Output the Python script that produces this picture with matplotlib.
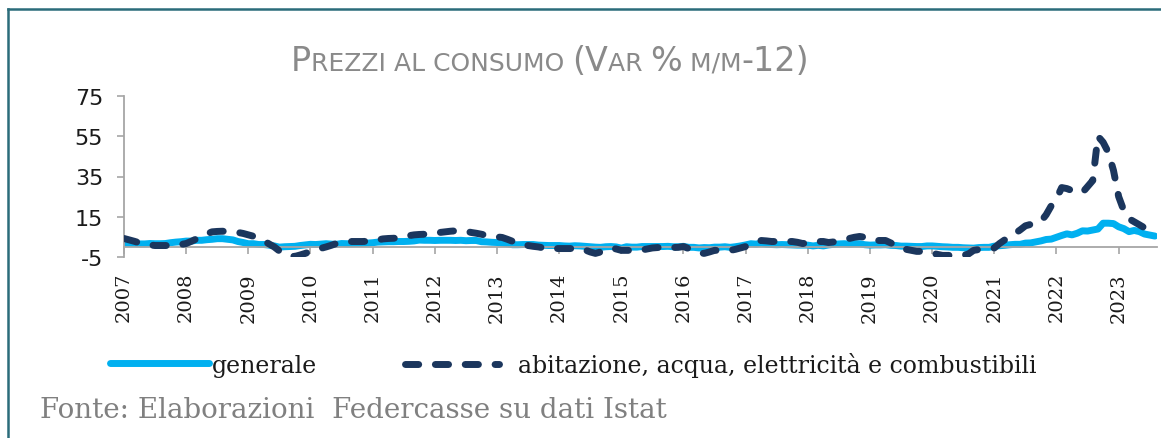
import matplotlib
matplotlib.use("Agg")
import matplotlib.pyplot as plt
from matplotlib.lines import Line2D
import numpy as np

plt.rcParams["axes.unicode_minus"] = False

# variazioni % tendenziali mensili, gen 2007 - ago 2023
anni = ["2007", "2008", "2009", "2010", "2011", "2012", "2013", "2014", "2015",
        "2016", "2017", "2018", "2019", "2020", "2021", "2022", "2023"]

generale = [
    1.7, 1.8, 1.7, 1.5, 1.5, 1.7, 1.6, 1.6, 1.7, 2.1, 2.4, 2.6,        # 2007
    2.9, 2.9, 3.3, 3.3, 3.6, 3.8, 4.1, 4.1, 3.8, 3.5, 2.7, 2.2,        # 2008
    1.6, 1.6, 1.2, 1.2, 0.9, 0.5, -0.1, 0.1, 0.2, 0.3, 0.7, 1.0,       # 2009
    1.3, 1.2, 1.4, 1.6, 1.4, 1.3, 1.7, 1.6, 1.6, 1.7, 1.7, 1.9,        # 2010
    2.1, 2.4, 2.5, 2.6, 2.6, 2.7, 2.7, 2.8, 3.0, 3.4, 3.3, 3.3,        # 2011
    3.2, 3.3, 3.3, 3.3, 3.2, 3.3, 3.1, 3.2, 3.2, 2.6, 2.5, 2.3,        # 2012
    2.2, 1.9, 1.6, 1.1, 1.1, 1.2, 1.2, 1.2, 0.9, 0.8, 0.7, 0.7,        # 2013
    0.7, 0.5, 0.4, 0.6, 0.5, 0.3, 0.1, -0.1, -0.2, 0.1, 0.2, 0.0,      # 2014
    -0.6, 0.1, -0.1, -0.1, 0.2, 0.2, 0.2, 0.2, 0.2, 0.3, 0.1, 0.1,     # 2015
    0.3, -0.2, -0.2, -0.5, -0.3, -0.4, -0.1, -0.1, 0.1, -0.2, 0.1, 0.5, # 2016
    1.0, 1.6, 1.4, 1.9, 1.4, 1.2, 1.1, 1.2, 1.1, 1.0, 0.9, 0.9,        # 2017
    0.9, 0.5, 0.8, 0.5, 1.0, 1.3, 1.5, 1.6, 1.4, 1.6, 1.6, 1.1,        # 2018
    0.9, 1.0, 1.0, 1.1, 0.8, 0.7, 0.4, 0.4, 0.3, 0.2, 0.2, 0.5,        # 2019
    0.5, 0.3, 0.1, 0.0, -0.2, -0.2, -0.4, -0.5, -0.6, -0.3, -0.2, -0.2, # 2020
    0.4, 0.6, 0.8, 1.1, 1.3, 1.3, 1.9, 2.0, 2.5, 3.0, 3.7, 3.9,        # 2021
    4.8, 5.7, 6.5, 6.0, 6.8, 8.0, 7.9, 8.4, 8.9, 11.8, 11.8, 11.6,     # 2022
    10.0, 9.1, 7.6, 8.2, 7.6, 6.4, 5.9, 5.4,                           # 2023
]

abitazione = [
    4.2, 3.5, 2.8, 2.0, 1.5, 1.0, 0.7, 0.7, 0.7, 0.7, 0.8, 1.2,        # 2007
    1.7, 2.8, 4.0, 5.2, 6.5, 7.5, 7.7, 7.8, 7.7, 7.5, 7.2, 6.7,        # 2008
    6.0, 5.3, 4.2, 3.0, 1.5, 0.0, -2.0, -3.5, -4.5, -4.7, -4.0, -3.2,  # 2009
    -2.2, -1.5, -0.7, 0.0, 0.8, 1.7, 2.2, 2.5, 2.7, 2.7, 2.7, 2.8,     # 2010
    3.0, 3.5, 4.0, 4.2, 4.3, 4.5, 5.0, 5.6, 6.0, 6.2, 6.3, 6.5,        # 2011
    6.8, 7.2, 7.5, 7.8, 8.0, 8.2, 7.8, 7.2, 6.8, 6.3, 5.7, 5.2,        # 2012
    5.0, 4.7, 3.8, 2.8, 1.7, 1.2, 0.7, 0.3, 0.0, -0.5, -0.8, -0.8,     # 2013
    -0.8, -0.8, -0.8, -0.8, -0.8, -1.5, -2.5, -3.2, -2.5, -1.5, -0.5, -1.0, # 2014
    -1.7, -1.7, -1.7, -1.7, -1.5, -1.0, -0.5, -0.3, -0.3, -0.3, -0.3, -0.2, # 2015
    0.2, -0.8, -2.0, -3.0, -3.2, -2.5, -1.7, -1.7, -1.7, -1.7, -1.2, -0.5,  # 2016
    0.2, 1.3, 2.3, 3.2, 3.0, 2.7, 2.7, 2.7, 2.7, 2.7, 2.3, 1.7,        # 2017
    2.0, 2.4, 2.7, 2.7, 2.2, 2.5, 3.2, 3.8, 4.2, 4.8, 5.2, 4.8,        # 2018
    4.0, 3.2, 3.2, 3.2, 2.0, 0.8, -0.8, -1.2, -1.7, -2.2, -2.2, -2.5,  # 2019
    -3.0, -3.7, -4.2, -4.2, -4.2, -4.2, -4.2, -3.5, -1.7, -1.3, -1.0, -0.8, # 2020
    -0.5, 1.7, 3.5, 5.0, 6.7, 8.5, 10.5, 11.2, 12.0, 12.7, 16.0, 20.5, # 2021
    24.0, 29.5, 29.0, 28.0, 27.5, 27.0, 30.0, 33.0, 55.0, 52.0, 47.0, 38.0, # 2022
    25.0, 18.0, 14.0, 12.5, 11.0, 9.5, 7.0, 4.5,                       # 2023
]

W, H = 1161, 439
fig = plt.figure(figsize=(W / 100, H / 100), dpi=100)
fig.patch.set_facecolor("white")

ax = fig.add_axes([124 / W, 1 - 258 / H, (1157 - 124) / W, (258 - 97) / H])

x = np.arange(len(generale))
l1, = ax.plot(x, generale, color="#00B0F0", lw=5, solid_capstyle="round",
              label="generale", zorder=2)
l2, = ax.plot(x, abitazione, color="#1B365D", lw=5, dashes=(1.9, 2.4),
              dash_capstyle="round",
              label="abitazione, acqua, elettricità e combustibili", zorder=3)

# spine spostata prima di impostare le etichette (altrimenti vengono resettate)
for s in ["top", "right"]:
    ax.spines[s].set_visible(False)
ax.spines["bottom"].set_position(("data", 0))
ax.spines["bottom"].set_color("#A6A6A6")
ax.spines["left"].set_color("#A6A6A6")
ax.spines["bottom"].set_linewidth(1.3)
ax.spines["left"].set_linewidth(1.3)

ax.set_xlim(0, len(generale) - 0.6)
ax.set_ylim(-5, 75)
ax.set_yticks([-5, 15, 35, 55, 75])
ax.set_xticks(np.arange(0, len(generale), 12))
ax.set_xticklabels(anni, rotation=90, family="DejaVu Serif", fontsize=14)
for lab in ax.get_yticklabels():
    lab.set_family("DejaVu Sans")
    lab.set_fontsize(16)

ax.tick_params(axis="y", direction="out", length=5, width=1.2, color="#A6A6A6",
               pad=10, labelcolor="#1a1a1a")
ax.tick_params(axis="x", direction="out", length=5, width=1.2, color="#A6A6A6",
               pad=13, labelcolor="#1a1a1a")
ax.set_facecolor("none")

# legenda (due blocchi separati per replicare le spaziature)
leg_kw = dict(loc="center left", frameon=False, borderpad=0, borderaxespad=0,
              prop={"family": "DejaVu Serif", "size": 17})
leg1 = fig.legend([l1], ["generale"], bbox_to_anchor=(110 / W, 1 - 366 / H),
                  handlelength=4.2, handletextpad=0.1, **leg_kw)
leg2 = fig.legend([l2], ["abitazione, acqua, elettricità e combustibili"],
                  bbox_to_anchor=(405 / W, 1 - 366 / H),
                  handlelength=4.0, handletextpad=0.8, **leg_kw)
for lg in (leg1, leg2):
    for t in lg.get_texts():
        t.set_color("#1a1a1a")

# titolo in maiuscoletto, centrato su x=550
pezzi = [("P", 24), ("REZZI AL CONSUMO ", 18), ("(V", 24), ("AR ", 18),
         ("%", 24), (" M/M", 18), ("-12)", 24)]
renderer = fig.canvas.get_renderer()
testi = []
xpos = 0
for testo, size in pezzi:
    t = fig.text(xpos, 1 - 71 / H, testo, fontsize=size, color="#8A8A8A",
                 family="DejaVu Sans", va="baseline", ha="left")
    testi.append(t)
    xpos = t.get_window_extent(renderer).x1 / W
shift = 550 / W - xpos / 2
for t in testi:
    px, py = t.get_position()
    t.set_position((px + shift, py))

# fonte
fig.text(40 / W, 1 - 411 / H, "Fonte: Elaborazioni  Federcasse su dati Istat",
         fontsize=20, color="#808080", family="DejaVu Serif", va="center")

# cornice
fig.add_artist(Line2D([8 / W, 1], [1 - 10 / H, 1 - 10 / H], color="#2B6C7A", lw=1.8))
fig.add_artist(Line2D([8 / W, 8 / W], [0, 1 - 10 / H], color="#2B6C7A", lw=1.8))

fig.savefig("out.png", dpi=100)
